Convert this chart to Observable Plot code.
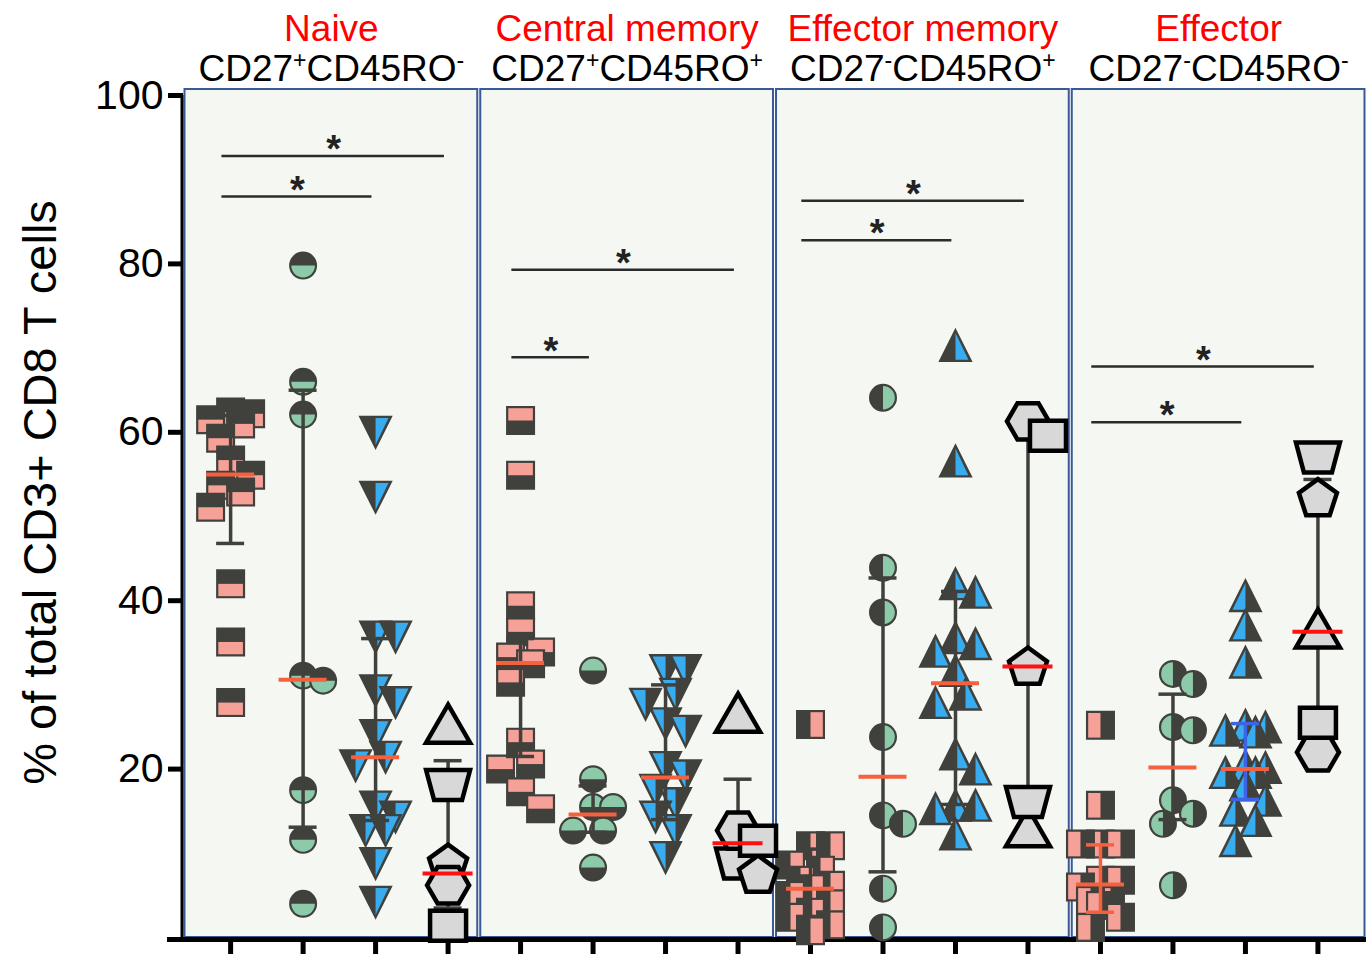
<!DOCTYPE html>
<html><head><meta charset="utf-8">
<script src="https://cdn.jsdelivr.net/npm/d3@7"></script>
<script src="https://cdn.jsdelivr.net/npm/@observablehq/plot@0.6"></script>
<style>body{margin:0;background:#fff} svg{display:block}</style>
</head><body><div id="chart"></div>
<script>
// ---------- data ----------
const groups = ["Naive", "Central memory", "Effector memory", "Effector"];
const phenotypes = ["CD27^+CD45RO^-", "CD27^+CD45RO^+", "CD27^-CD45RO^+", "CD27^-CD45RO^-"];
const yTicks = [20, 40, 60, 80, 100];
const yLabel = "% of total CD3+ CD8 T cells";

const naiveSquare = [62.4, 62.2, 61.5, 61.0, 59.3, 56.7, 54.9, 53.7, 52.9, 51.1, 42.0, 35.1, 27.9];
const naiveCircle = [79.8, 66.0, 62.1, 31.1, 30.5, 17.5, 11.6, 4.0];
const naiveTriangle = [60.0, 52.3, 35.7, 35.7, 29.3, 27.9, 24.0, 21.4, 20.4, 15.5, 14.3, 12.7, 12.7, 8.8, 4.2];
const cmSquare = [61.4, 54.9, 39.4, 36.3, 33.9, 33.3, 32.5, 30.3, 23.2, 20.6, 20.0, 17.3, 15.3];
const cmCircle = [31.7, 18.8, 15.5, 15.5, 12.7, 12.7, 8.3];
const cmTriangle = [31.7, 31.7, 28.9, 27.7, 25.4, 24.5, 20.2, 19.2, 17.5, 15.9, 14.3, 12.7, 9.5];
const emSquare = [25.3, 10.9, 10.9, 8.6, 8.0, 6.8, 6.2, 5.8, 5.0, 4.0, 3.0, 2.4, 1.5, 0.8];
const emCircle = [64.1, 43.9, 38.6, 23.8, 14.5, 13.5, 5.8, 1.2];
const emTriangle = [70.3, 56.6, 42.0, 41.0, 35.6, 34.9, 34.0, 31.7, 28.9, 27.9, 21.8, 20.0, 15.7, 15.7, 15.3, 12.3];
const efSquare = [25.2, 15.7, 11.1, 11.1, 11.1, 6.8, 6.8, 6.0, 4.4, 4.4, 3.8, 2.4, 1.2];
const efCircle = [31.3, 30.1, 25.0, 24.6, 16.3, 14.7, 13.5, 6.2];
const efTriangle = [40.6, 37.1, 32.7, 25.2, 25.0, 24.6, 24.4, 20.4, 20.2, 19.6, 19.6, 18.1, 16.3, 15.1, 13.9, 11.5];

const greyShapes = ["triangle", "trapezoid", "pentagon", "hexagon", "square"];
const naiveGrey = [25.4, 18.1, 8.9, 6.2, 1.4];
const cmGrey = [26.7, 8.8, 7.6, 12.7, 11.5];
const emGrey = [13.1, 16.1, 32.3, 61.3, 59.6];
const efGrey = [36.7, 57.0, 52.3, 22.0, 25.5];

const medians = [55.0, 30.6, 21.4, 7.6, 32.6, 14.6, 19.0, 11.2, 5.8, 19.1, 30.2, 32.2, 6.3, 20.2, 20.0, 36.3];
const q1 = [46.8, 13.1, 13.9, 3.5, 21.5, 12.5, 14.0, 8.2, 2.5, 7.8, 15.8, 14.7, 3.0, 14.0, 16.4, 23.8];
const q3 = [62.0, 65.0, 35.5, 21.0, 35.5, 18.0, 30.0, 18.8, 10.5, 42.7, 41.1, 60.4, 11.0, 28.9, 25.4, 54.4];

const sigFrom = [0, 0, 4, 4, 8, 8, 12, 12];
const sigTo = [3, 2, 7, 5, 11, 10, 15, 14];
const sigY = [92.8, 88.0, 79.3, 68.9, 87.5, 82.8, 67.8, 61.2];

// ---------- layout & style ----------
const W = 1370, H = 966, mL = 183, mR = 4, mT = 95, mB = 29;
const xDom = [-0.65, 15.67];
const pxX = (W - mL - mR) / (xDom[1] - xDom[0]);
const pxY = (H - mT - mB) / 100;
const pw = (xDom[1] - xDom[0]) / 4;
const dark = "#40413c", pink = "#f5a198", green = "#8dcaa9", blue = "#39abef";
const greyFill = "#d8d8d8", orange = "#f5613f", red = "#ff1111", barBlue = "#3e64e6";

const colored = [
  [naiveSquare, naiveCircle, naiveTriangle],
  [cmSquare, cmCircle, cmTriangle],
  [emSquare, emCircle, emTriangle],
  [efSquare, efCircle, efTriangle]
];
const greyByGroup = [naiveGrey, cmGrey, emGrey, efGrey];
const halfSide = {square: ["bottom", "top", "right", "left"], circle: ["bottom", "top", "right", "left"], triangle: ["right", "left", "right", "left"]};
const triUp = [false, false, true, true];
const fills = [pink, green, blue];

// deterministic horizontal spreading (beeswarm-like, capped width), in pixels
function spread(values, minDist, step, maxOff) {
  const order = d3.range(values.length).sort((a, b) => d3.descending(values[a], values[b]) || a - b);
  const nMax = Math.floor(maxOff / step);
  const cands = [0];
  for (let n = 1; n <= nMax; n++) cands.push(n * step, -n * step);
  const placed = [], off = new Array(values.length);
  for (const i of order) {
    const py = values[i] * pxY;
    const dmin = x => placed.length ? d3.min(placed, p => Math.hypot(p.x - x, p.y - py)) : Infinity;
    let best = cands.find(x => dmin(x) >= minDist);
    if (best === undefined) best = cands[d3.maxIndex(cands, dmin)];
    placed.push({x: best, y: py});
    off[i] = best;
  }
  return off;
}

// ---------- symbols ----------
const sym = f => ({draw(ctx, size) { f(ctx, Math.sqrt(size / Math.PI)); }});
function poly(ctx, pts) { ctx.moveTo(pts[0][0], pts[0][1]); for (const p of pts.slice(1)) ctx.lineTo(p[0], p[1]); ctx.closePath(); }
function fullSym(kind, up) {
  if (kind === "square") return sym((c, r) => poly(c, [[-r, -r], [r, -r], [r, r], [-r, r]]));
  if (kind === "circle") return sym((c, r) => { c.moveTo(r, 0); c.arc(0, 0, r, 0, 2 * Math.PI); c.closePath(); });
  return sym((c, r) => poly(c, up ? [[0, -r], [r, r], [-r, r]] : [[-r, -r], [r, -r], [0, r]]));
}
function halfSym(kind, side, up) {
  const ins = 1.2;
  if (kind === "square") return sym((c, R) => {
    const r = R - ins; let x0 = -r, x1 = r, y0 = -r, y1 = r;
    if (side === "bottom") y0 = 0; if (side === "top") y1 = 0; if (side === "left") x1 = 0; if (side === "right") x0 = 0;
    poly(c, [[x0, y0], [x1, y0], [x1, y1], [x0, y1]]);
  });
  if (kind === "circle") return sym((c, R) => {
    const r = R - ins;
    const a = {bottom: [0, Math.PI], top: [Math.PI, 2 * Math.PI], right: [-Math.PI / 2, Math.PI / 2], left: [Math.PI / 2, 3 * Math.PI / 2]}[side];
    c.moveTo(r * Math.cos(a[0]), r * Math.sin(a[0])); c.arc(0, 0, r, a[0], a[1]); c.closePath();
  });
  return sym((c, R) => {
    const s = side === "right" ? 1 : -1;
    if (up) { const t = -R + 3, b = R - 1.3, w = R - 2.6; poly(c, [[0, t], [s * w, b], [0, b]]); }
    else { const t = -R + 1.3, b = R - 3, w = R - 2.6; poly(c, [[0, t], [s * w, t], [0, b]]); }
  });
}
const greySym = {
  triangle: sym(c => poly(c, [[0, -19], [22, 19], [-22, 19]])),
  trapezoid: sym(c => poly(c, [[-22, -15], [22, -15], [14, 15], [-14, 15]])),
  pentagon: sym(c => poly(c, d3.range(5).map(i => { const a = -Math.PI / 2 + i * 2 * Math.PI / 5; return [20 * Math.cos(a), 20 * Math.sin(a) + 2]; }))),
  hexagon: sym(c => poly(c, d3.range(6).map(i => { const a = i * Math.PI / 3; return [21 * Math.cos(a), 21 * Math.sin(a)]; }))),
  square: sym(c => poly(c, [[-18, -15], [18, -15], [18, 15], [-18, 15]]))
};

// ---------- marks ----------
const cats = d3.range(16);
const dotMarks = [];
groups.forEach((g, gi) => {
  [0, 1, 2].forEach(k => {
    const c = gi * 4 + k;
    const vals = colored[gi][k];
    const off = spread(vals, 24, 10, 20);
    const kind = ["square", "circle", "triangle"][k];
    const r = [13.5, 13, 15.5][k];
    const full = fullSym(kind, triUp[gi]);
    const half = halfSym(kind, halfSide[kind][gi], triUp[gi]);
    vals.forEach((v, i) => {
      const pt = [{x: c + off[i] / pxX, y: v}];
      dotMarks.push(Plot.dot(pt, {x: "x", y: "y", r, symbol: full, fill: dark, stroke: dark, strokeWidth: 2}));
      dotMarks.push(Plot.dot(pt, {x: "x", y: "y", r, symbol: half, fill: fills[k], stroke: "none"}));
    });
  });
});
const greyMarks = [];
groups.forEach((g, gi) => {
  const c = gi * 4 + 3;
  const vals = greyByGroup[gi];
  const off = spread(vals, 20, 20, 25);
  vals.forEach((v, i) => {
    greyMarks.push(Plot.dot([{x: c + off[i] / pxX, y: v}], {x: "x", y: "y", r: 20, symbol: greySym[greyShapes[i]], fill: greyFill, stroke: "#000", strokeWidth: 4.5}));
  });
});

const barColor = c => c === 12 ? orange : c === 14 ? barBlue : dark;
const capData = cats.flatMap(c => [{c, y: q1[c]}, {c, y: q3[c]}]);
const sigIdx = d3.range(sigY.length);

const chart = Plot.plot({
  width: W, height: H,
  marginLeft: mL, marginRight: mR, marginTop: mT, marginBottom: mB,
  x: {domain: xDom, label: null},
  y: {domain: [0, 100], label: null},
  style: {fontFamily: "'Liberation Sans', Arial, Helvetica, sans-serif", background: "#fff", overflow: "visible"},
  marks: [
    Plot.rect(groups, {x1: (d, i) => xDom[0] + i * pw, x2: (d, i) => xDom[0] + (i + 1) * pw, y1: 0, y2: 100,
      insetLeft: 1.5, insetRight: 1.5, insetTop: -6, fill: "#f5f7f2", stroke: "#3a5a97", strokeWidth: 2}),
    Plot.ruleX([xDom[0]], {y1: 0, y2: 100, stroke: "#000", strokeWidth: 3, dx: -1.5}),
    Plot.ruleY([0], {stroke: "#000", strokeWidth: 5, insetLeft: -16, dy: 2}),
    Plot.axisY({ticks: yTicks, tickSize: 15, tickPadding: 5, fontSize: 41, stroke: "#000", strokeWidth: 5, label: null, tickFormat: d => String(d)}),
    Plot.axisX({ticks: cats, tickSize: 17, tickFormat: () => "", stroke: "#000", strokeWidth: 5, label: null}),
    Plot.ruleY(sigIdx, {y: i => sigY[i], x1: i => sigFrom[i] - 0.12, x2: i => sigTo[i] - 0.05, stroke: "#2b2b2b", strokeWidth: 2.5}),
    Plot.text(sigIdx, {x: i => (sigFrom[i] + sigTo[i]) / 2 - 0.08, y: i => sigY[i], text: () => "*", dy: -6, fontSize: 38, fontWeight: "bold", fill: "#222"}),
    ...dotMarks,
    Plot.ruleX(cats, {x: d => d, y1: d => q1[d], y2: d => q3[d], stroke: barColor, strokeWidth: 3.5}),
    Plot.ruleY(capData, {y: "y", x1: d => d.c - 14 / pxX, x2: d => d.c + 14 / pxX, stroke: d => barColor(d.c), strokeWidth: 3.5}),
    ...greyMarks,
    Plot.ruleY(cats, {y: d => medians[d], x1: d => d - (d % 4 === 3 ? 25 : 24) / pxX, x2: d => d + (d % 4 === 3 ? 25 : 24) / pxX,
      stroke: d => d % 4 === 3 ? red : orange, strokeWidth: 4}),
    Plot.text(groups, {x: (d, i) => xDom[0] + (i + 0.5) * pw, y: 100, text: d => d, dy: -66, fontSize: 37, fill: "#ff0000"}),
    Plot.text(phenotypes, {x: (d, i) => xDom[0] + (i + 0.5) * pw, y: 100, text: d => d, dy: -26, fontSize: 37, fill: "#000", className: "cdlabel"}),
    Plot.text([yLabel], {frameAnchor: "left", textAnchor: "middle", rotate: -90, dx: -143, dy: -24, fontSize: 47, fill: "#000"})
  ]
});

// superscripts in phenotype labels
chart.querySelectorAll("g.cdlabel text").forEach(t => {
  const s = t.textContent;
  while (t.firstChild) t.removeChild(t.firstChild);
  const re = /\^(.)/g; let last = 0, m; const parts = [];
  while ((m = re.exec(s))) { if (m.index > last) parts.push([s.slice(last, m.index), false]); parts.push([m[1], true]); last = re.lastIndex; }
  if (last < s.length) parts.push([s.slice(last), false]);
  let prevSup = false;
  for (const [txt, isSup] of parts) {
    const ts = document.createElementNS("http://www.w3.org/2000/svg", "tspan");
    ts.textContent = txt;
    if (isSup) { ts.setAttribute("font-size", "23"); if (!prevSup) ts.setAttribute("dy", "-13"); }
    else if (prevSup) ts.setAttribute("dy", "13");
    t.appendChild(ts);
    prevSup = isSup;
  }
});

document.getElementById("chart").appendChild(chart);
</script>
</body></html>
